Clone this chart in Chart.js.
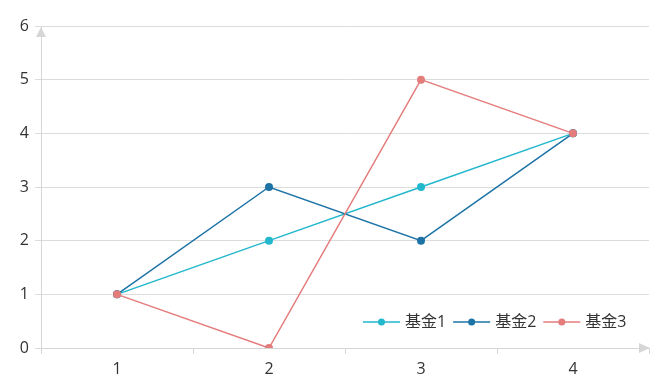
<!DOCTYPE html>
<html>
<head>
<meta charset="utf-8">
<script src="https://cdn.jsdelivr.net/npm/chart.js@4"></script>
<style>
  html, body { margin: 0; padding: 0; background: #fff; }
  #lineChart { display: block; }
</style>
</head>
<body>
<canvas id="lineChart" width="660" height="392"></canvas>
<script>
const categories = ["1", "2", "3", "4"];
const seriesNames = ["基金1", "基金2", "基金3"];
const fund1 = [1, 2, 3, 4];
const fund2 = [1, 3, 2, 4];
const fund3 = [1, 0, 5, 4];
const yTicks = [0, 1, 2, 3, 4, 5, 6];

const colors = ["#22b7cd", "#1d73a6", "#e57c7c"];
const fontFamily = "'Open Sans', 'Noto Sans CJK SC', sans-serif";
const axisColor = "#d6d6d6";

// axis arrows + legend drawn inside the plot
const extrasPlugin = {
  id: "extras",
  afterDraw(chart) {
    const ctx = chart.ctx;
    const area = chart.chartArea;
    ctx.save();

    ctx.fillStyle = axisColor;
    ctx.beginPath();
    ctx.moveTo(area.left, area.top + 1);
    ctx.lineTo(area.left - 5, area.top + 11);
    ctx.lineTo(area.left + 5, area.top + 11);
    ctx.closePath();
    ctx.fill();

    ctx.beginPath();
    ctx.moveTo(area.right + 1, area.bottom);
    ctx.lineTo(area.right - 10, area.bottom - 5);
    ctx.lineTo(area.right - 10, area.bottom + 5);
    ctx.closePath();
    ctx.fill();

    let x = 363;
    const y = 322;
    ctx.font = "16px " + fontFamily;
    ctx.textBaseline = "middle";
    chart.data.datasets.forEach(ds => {
      ctx.strokeStyle = ds.borderColor;
      ctx.lineWidth = 1.5;
      ctx.beginPath();
      ctx.moveTo(x, y);
      ctx.lineTo(x + 37, y);
      ctx.stroke();
      ctx.fillStyle = ds.borderColor;
      ctx.beginPath();
      ctx.arc(x + 18.5, y, 3.5, 0, Math.PI * 2);
      ctx.fill();
      ctx.fillStyle = "#333";
      ctx.fillText(ds.label, x + 42, y);
      x += 42 + ctx.measureText(ds.label).width + 7;
    });

    ctx.restore();
  }
};

new Chart(document.getElementById("lineChart"), {
  type: "line",
  data: {
    labels: categories,
    datasets: [fund1, fund2, fund3].map((values, i) => ({
      label: seriesNames[i],
      data: values,
      order: 2 - i,
      borderColor: colors[i],
      backgroundColor: colors[i],
      borderWidth: 1.5,
      pointRadius: 4,
      pointBorderWidth: 0,
      tension: 0,
      fill: false
    }))
  },
  options: {
    responsive: false,
    animation: false,
    devicePixelRatio: 1,
    layout: { padding: { top: 26, right: 11, left: 0, bottom: 0 } },
    plugins: {
      legend: { display: false },
      tooltip: { enabled: false }
    },
    scales: {
      x: {
        offset: true,
        afterFit(scale) { scale.height = 44; },
        grid: {
          offset: true,
          drawOnChartArea: false,
          color: axisColor,
          tickLength: 6
        },
        border: { color: axisColor, width: 1 },
        ticks: {
          color: "#333",
          padding: 6,
          font: { family: fontFamily, size: 16 }
        }
      },
      y: {
        min: yTicks[0],
        max: yTicks[yTicks.length - 1],
        afterFit(scale) { scale.width = 41; },
        grid: {
          color: "#dcdcdc",
          tickLength: 6
        },
        border: { color: axisColor, width: 1 },
        ticks: {
          stepSize: 1,
          autoSkip: false,
          color: "#333",
          padding: 6,
          font: { family: fontFamily, size: 16 }
        }
      }
    }
  },
  plugins: [extrasPlugin]
});
</script>
</body>
</html>
